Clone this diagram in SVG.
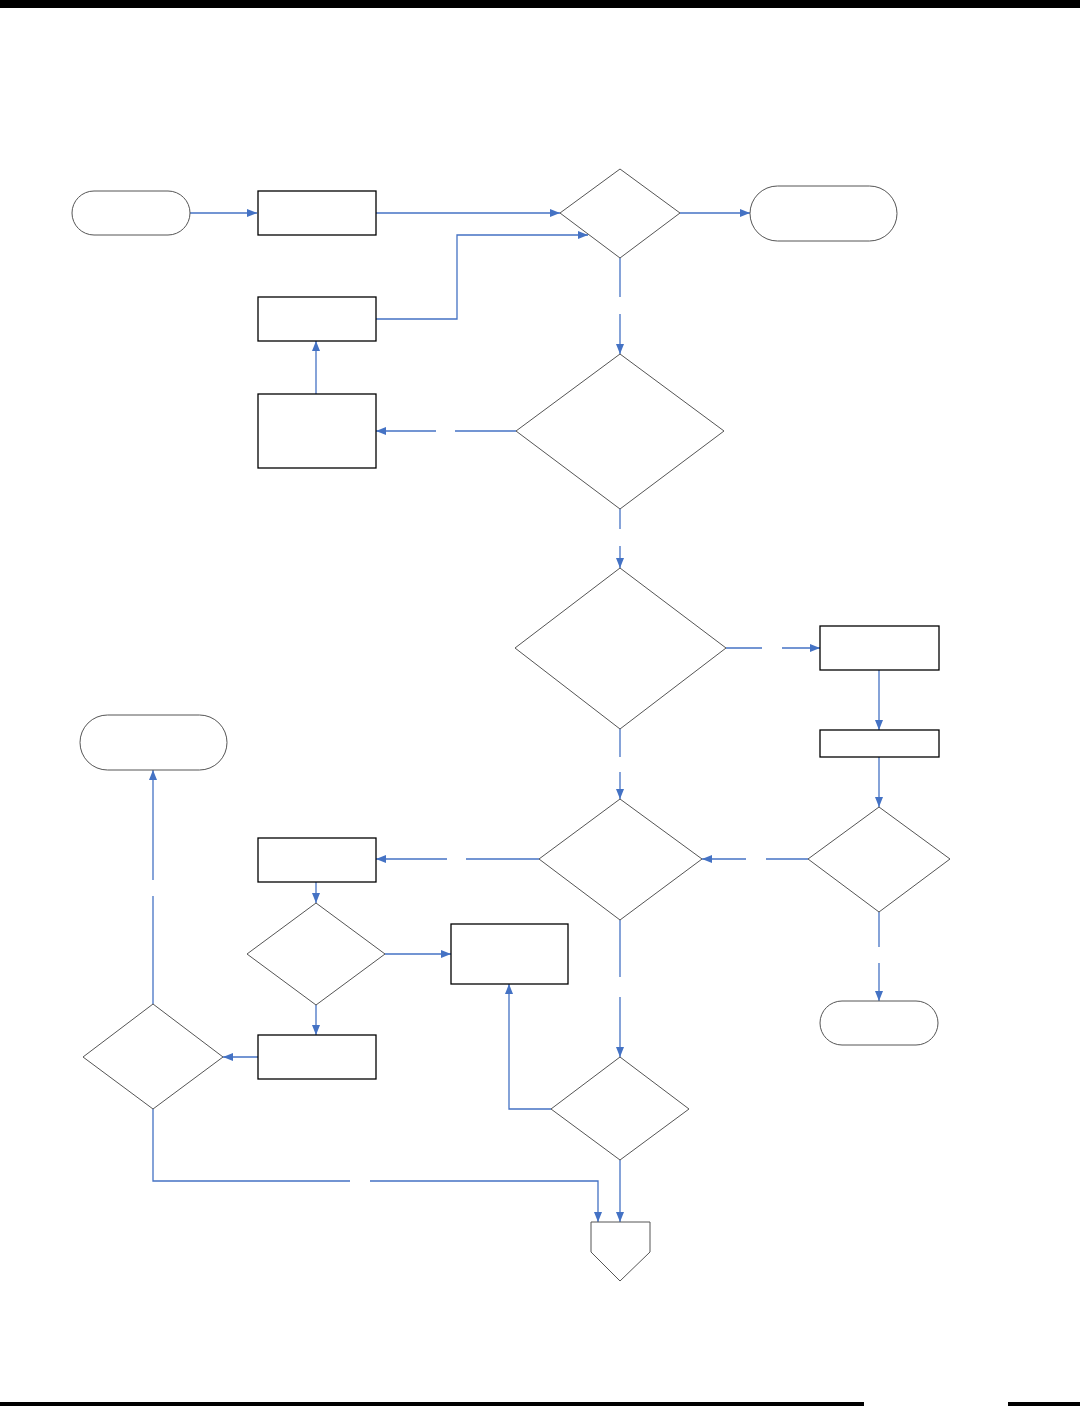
<svg xmlns="http://www.w3.org/2000/svg" width="1080" height="1406" viewBox="0 0 1080 1406">
<style>
.term{fill:#fff;stroke:#555;stroke-width:1}
.box{fill:#fff;stroke:#000;stroke-width:1.3}
.dia{fill:#fff;stroke:#555;stroke-width:1}
.c{fill:none;stroke:#4472C4;stroke-width:1.3}
.bar{fill:#000}
</style>
<defs>
<marker id="ah" markerUnits="userSpaceOnUse" markerWidth="11" markerHeight="9" refX="10" refY="4" orient="auto">
<path d="M0,0 L10,4 L0,8 z" fill="#4472C4"/>
</marker>
</defs>
<rect width="1080" height="1406" fill="#fff"/>
<rect class="bar" x="0" y="0" width="1080" height="8"/>
<rect class="bar" x="0" y="1402" width="864" height="4"/>
<rect class="bar" x="1008" y="1402" width="72" height="4"/>

<g id="connectors">
<path class="c" d="M190,213 H257" marker-end="url(#ah)"/>
<path class="c" d="M376,213 H560" marker-end="url(#ah)"/>
<path class="c" d="M376,319 H457 V235 H588" marker-end="url(#ah)"/>
<path class="c" d="M680,213 H750" marker-end="url(#ah)"/>
<path class="c" d="M620,258 V297"/>
<path class="c" d="M620,314 V354" marker-end="url(#ah)"/>
<path class="c" d="M516,431 H455"/>
<path class="c" d="M436,431 H376" marker-end="url(#ah)"/>
<path class="c" d="M316,394 V341" marker-end="url(#ah)"/>
<path class="c" d="M620,509 V529"/>
<path class="c" d="M620,546 V568" marker-end="url(#ah)"/>
<path class="c" d="M726,648 H762"/>
<path class="c" d="M782,648 H820" marker-end="url(#ah)"/>
<path class="c" d="M879,670 V730" marker-end="url(#ah)"/>
<path class="c" d="M879,757 V807" marker-end="url(#ah)"/>
<path class="c" d="M879,912 V947"/>
<path class="c" d="M879,963 V1001" marker-end="url(#ah)"/>
<path class="c" d="M808,859 H766"/>
<path class="c" d="M746,859 H702" marker-end="url(#ah)"/>
<path class="c" d="M620,729 V757"/>
<path class="c" d="M620,772 V799" marker-end="url(#ah)"/>
<path class="c" d="M539,859 H466"/>
<path class="c" d="M447,859 H376" marker-end="url(#ah)"/>
<path class="c" d="M316,882 V903" marker-end="url(#ah)"/>
<path class="c" d="M385,954 H451" marker-end="url(#ah)"/>
<path class="c" d="M316,1005 V1035" marker-end="url(#ah)"/>
<path class="c" d="M258,1057 H223" marker-end="url(#ah)"/>
<path class="c" d="M153,1004 V896"/>
<path class="c" d="M153,880 V770" marker-end="url(#ah)"/>
<path class="c" d="M620,920 V977"/>
<path class="c" d="M620,997 V1057" marker-end="url(#ah)"/>
<path class="c" d="M551,1109 H509 V984" marker-end="url(#ah)"/>
<path class="c" d="M620,1160 V1222" marker-end="url(#ah)"/>
<path class="c" d="M153,1109 V1181 H350"/>
<path class="c" d="M370,1181 H598 V1222" marker-end="url(#ah)"/>
</g>

<g id="n1"><rect class="term" x="72" y="191" width="118" height="44" rx="22"/></g>
<g id="n2"><rect class="box" x="258" y="191" width="118" height="44"/></g>
<g id="n3"><polygon class="dia" points="620,169 680,213 620,258 560,213"/></g>
<g id="n4"><rect class="term" x="750" y="186" width="147" height="55" rx="27.5"/></g>
<g id="n5"><rect class="box" x="258" y="297" width="118" height="44"/></g>
<g id="n6"><rect class="box" x="258" y="394" width="118" height="74"/></g>
<g id="n7"><polygon class="dia" points="620,354 724,431 620,509 516,431"/></g>
<g id="n8"><polygon class="dia" points="620,568 726,648 620,729 515,648"/></g>
<g id="n9"><rect class="box" x="820" y="626" width="119" height="44"/></g>
<g id="n10"><rect class="box" x="820" y="730" width="119" height="27"/></g>
<g id="n11"><polygon class="dia" points="879,807 950,859 879,912 808,859"/></g>
<g id="n12"><rect class="term" x="820" y="1001" width="118" height="44" rx="22"/></g>
<g id="n13"><polygon class="dia" points="620,799 702,859 620,920 539,859"/></g>
<g id="n14"><rect class="box" x="258" y="838" width="118" height="44"/></g>
<g id="n15"><polygon class="dia" points="316,903 385,954 316,1005 247,954"/></g>
<g id="n16"><rect class="box" x="451" y="924" width="117" height="60"/></g>
<g id="n17"><rect class="box" x="258" y="1035" width="118" height="44"/></g>
<g id="n18"><polygon class="dia" points="153,1004 223,1057 153,1109 83,1057"/></g>
<g id="n19"><rect class="term" x="80" y="715" width="147" height="55" rx="27.5"/></g>
<g id="n20"><polygon class="dia" points="620,1057 689,1109 620,1160 551,1109"/></g>
<g id="n21"><polygon class="dia" points="591,1222 650,1222 650,1252 620,1281 591,1252"/></g>
</svg>
